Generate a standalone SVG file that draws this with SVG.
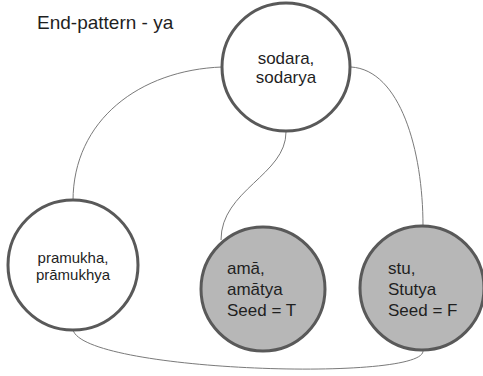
<svg xmlns="http://www.w3.org/2000/svg" width="483" height="376" viewBox="0 0 483 376">
<style>
.node{stroke:#595959;stroke-width:3}
.w{fill:#ffffff}
.g{fill:#b7b7b7}
.edge{fill:none;stroke:#7a7a7a;stroke-width:1}
text{font-family:"Liberation Sans",Arial,sans-serif;fill:#1f1f1f}
</style>
<rect width="483" height="376" fill="#ffffff"/>
<text x="37" y="29" font-size="19">End-pattern - ya</text>
<g id="connectors">
<path class="edge" d="M222,67 C140,70 73,120 73,201"/>
<path class="edge" d="M351,67 C400,70 423,150 423,226"/>
<path class="edge" d="M286,132 C286,175 221,190 221,240"/>
<path class="edge" d="M73,330 C85,372 423,382 423,351"/>
</g>
<g id="sodara">
<circle class="node w" cx="286" cy="67" r="64"/>
<text x="286" y="64" font-size="17" text-anchor="middle">sodara,</text>
<text x="286" y="83" font-size="17" text-anchor="middle">sodarya</text>
</g>
<g id="pramukha">
<circle class="node w" cx="73" cy="265" r="65"/>
<text x="73" y="263" font-size="15" text-anchor="middle">pramukha,</text>
<text x="73" y="280" font-size="15" text-anchor="middle">prāmukhya</text>
</g>
<g id="ama">
<circle class="node g" cx="263" cy="289" r="62"/>
<text x="227" y="274" font-size="17">amā,</text>
<text x="227" y="295" font-size="17">amātya</text>
<text x="227" y="316" font-size="17">Seed = T</text>
</g>
<g id="stu">
<circle class="node g" cx="422" cy="288" r="62"/>
<text x="388" y="274" font-size="17">stu,</text>
<text x="388" y="295" font-size="17">Stutya</text>
<text x="388" y="316" font-size="17">Seed = F</text>
</g>
</svg>
